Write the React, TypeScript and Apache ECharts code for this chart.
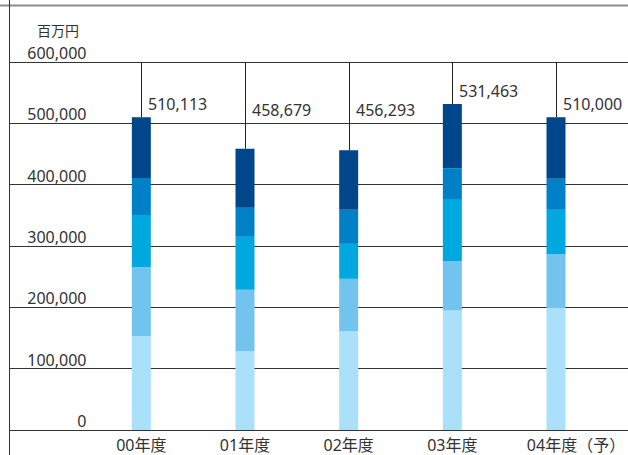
import React, { useEffect, useRef } from "react";
import * as echarts from "echarts";

const categories = ["00年度", "01年度", "02年度", "03年度", "04年度（予）"];
const seg1 = [153000, 129000, 161500, 195500, 199000];
const seg2 = [112500, 99500, 85000, 80000, 88000];
const seg3 = [85000, 86500, 57000, 101000, 72000];
const seg4 = [60500, 47500, 55500, 50500, 50500];
const seg5 = [99113, 96179, 97293, 104463, 100500];
const totals = [510113, 458679, 456293, 531463, 510000];
const yTicks = [0, 100000, 200000, 300000, 400000, 500000, 600000];
const unitLabel = "百万円";

const colors = ["#aae0fa", "#72c4ef", "#00a8e0", "#0080c6", "#00468b"];
const FONT = "'Noto Sans', 'Noto Sans CJK JP', sans-serif";
const TEXT = "#333333";

export default function App() {
  const ref = useRef<HTMLDivElement>(null);
  useEffect(() => {
    if (!ref.current) return;
    const chart = echarts.init(ref.current, undefined, { renderer: "svg" });
    const yMin = yTicks[0];
    const yMax = yTicks[yTicks.length - 1];
    const step = yTicks[1] - yTicks[0];
    const segs = [seg1, seg2, seg3, seg4, seg5];
    chart.setOption({
      animation: false,
      textStyle: { fontFamily: FONT },
      grid: [
        { left: 89.5, right: 18.5, top: 62, bottom: 25 },
        { left: 9, right: 0, top: 62, bottom: 25 },
      ],
      xAxis: [
        {
          gridIndex: 0,
          type: "category",
          data: categories,
          axisLine: { show: false },
          axisTick: { show: false },
          axisLabel: {
            interval: 0,
            margin: 7,
            color: TEXT,
            fontSize: 16,
            lineHeight: 16,
            fontFamily: FONT,
            formatter: (v: string) => (v.indexOf("（") >= 0 ? "{pad|}" + v : v),
            rich: { pad: { width: 40, lineHeight: 16 } },
          },
        },
        { gridIndex: 1, type: "value", show: false, min: 0, max: 1 },
      ],
      yAxis: [
        {
          gridIndex: 0,
          type: "value",
          min: yMin,
          max: yMax,
          interval: step,
          axisLine: { show: false },
          axisTick: { show: false },
          splitLine: { show: false },
          axisLabel: {
            margin: 3,
            color: TEXT,
            fontSize: 16,
            fontFamily: FONT,
            verticalAlign: "bottom",
            padding: [0, 0, 1, 0],
            formatter: (v: number) => v.toLocaleString("en-US"),
          },
        },
        {
          gridIndex: 1,
          type: "value",
          min: yMin,
          max: yMax,
          interval: step,
          axisLine: { show: false },
          axisTick: { show: false },
          axisLabel: { show: false },
          splitLine: { show: true, lineStyle: { color: "#333333", width: 1 } },
        },
      ],
      graphic: [
        {
          type: "line",
          shape: { x1: 0, y1: 5.5, x2: 628, y2: 5.5 },
          style: { stroke: "#8a8a8a", lineWidth: 2 },
        },
        {
          type: "line",
          shape: { x1: 9.5, y1: 0, x2: 9.5, y2: 455 },
          style: { stroke: "#333333", lineWidth: 1 },
        },
        {
          type: "text",
          x: 58,
          y: 30,
          style: {
            text: unitLabel,
            fill: TEXT,
            font: `14px ${FONT}`,
            align: "center",
            verticalAlign: "middle",
          },
        },
      ],
      series: [
        ...segs.map((s, k) => ({
          type: "bar",
          name: "区分" + (k + 1),
          stack: "total",
          xAxisIndex: 0,
          yAxisIndex: 0,
          barWidth: 19,
          itemStyle: { color: colors[k] },
          data: s,
        })),
        {
          type: "custom",
          xAxisIndex: 0,
          yAxisIndex: 0,
          clip: false,
          data: totals.map((t, i) => [i, t]),
          renderItem: (params: any, api: any) => {
            const i = api.value(0);
            const t = api.value(1);
            const top = api.coord([i, t]);
            const upper = api.coord([i, yMax]);
            const lab = api.coord([i, Math.max(t, 500000) + 22000]);
            const x = Math.round(top[0]) + 0.5;
            return {
              type: "group",
              children: [
                {
                  type: "line",
                  shape: { x1: x, y1: upper[1], x2: x, y2: top[1] },
                  style: { stroke: "#222222", lineWidth: 1 },
                },
                {
                  type: "text",
                  x: x + 6.5,
                  y: lab[1],
                  style: {
                    text: t.toLocaleString("en-US"),
                    fill: TEXT,
                    font: `16px ${FONT}`,
                    align: "left",
                    verticalAlign: "middle",
                  },
                },
              ],
            };
          },
        },
      ],
    });
    return () => chart.dispose();
  }, []);
  return (
    <div
      ref={ref}
      style={{ position: "fixed", left: 0, top: 0, width: 628, height: 455, background: "#fff" }}
    />
  );
}
